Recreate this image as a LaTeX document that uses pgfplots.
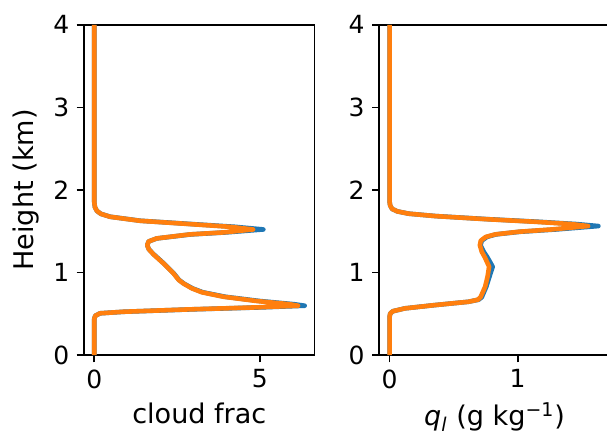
\documentclass[border=0pt]{standalone}
\usepackage{fontspec}
\setmainfont{DejaVu Sans}
\usepackage{pgfplots}
\pgfplotsset{compat=1.18}
\definecolor{mblue}{HTML}{1F77B4}
\definecolor{morange}{HTML}{FF7F0E}
\pgfplotsset{
  myax/.style={
    scale only axis, width=110.7pt, height=158.5pt,
    ymin=0, ymax=4, ytick={0,1,2,3,4},
    tick align=outside, xtick pos=bottom, ytick pos=left,
    major tick length=3.5pt,
    axis line style={line width=0.8pt},
    every tick/.style={line width=0.8pt, black},
    tick label style={font=\fontsize{12}{14}\selectfont},
    label style={font=\fontsize{13}{15}\selectfont},
    /pgf/number format/assume math mode=true,
    anchor=south west,
    every axis plot/.append style={line width=2.2pt, line join=round},
  }
}
\begin{document}
\begin{tikzpicture}
\useasboundingbox (0,0) rectangle (291.36pt,212.16pt);
\clip (0,0) rectangle (291.36pt,212.16pt);
\begin{axis}[myax, at={(40.32pt,41.76pt)},
  xmin=-0.311, xmax=6.66, xtick={0,5},
  xlabel={cloud frac}, ylabel={Height (km)}]
\addplot[mblue] coordinates {
(0,0)(0,0.44)(0.03,0.475)(0.17,0.505)(0.90,0.524)(2.95,0.553)(5.05,0.577)(6.36,0.597)(6.05,0.615)(5.0,0.654)(3.95,0.706)(3.28,0.76)(2.97,0.807)(2.71,0.865)(2.56,0.91)(2.40,0.99)(2.10,1.11)(1.81,1.215)(1.65,1.28)(1.60,1.33)(1.64,1.375)(1.89,1.412)(2.92,1.461)(3.98,1.485)(5.11,1.521)(4.25,1.553)(2.95,1.586)(1.40,1.626)(0.48,1.675)(0.20,1.71)(0.08,1.745)(0.02,1.79)(0,1.85)(0,4)};
\addplot[morange] coordinates {
(0,0)(0,0.44)(0.03,0.475)(0.17,0.505)(0.88,0.524)(2.89,0.553)(4.91,0.577)(6.16,0.597)(5.91,0.615)(4.91,0.654)(3.90,0.706)(3.25,0.76)(2.95,0.807)(2.70,0.865)(2.55,0.91)(2.39,0.99)(2.09,1.11)(1.80,1.215)(1.65,1.28)(1.60,1.33)(1.64,1.375)(1.88,1.412)(2.89,1.461)(3.90,1.485)(4.80,1.521)(4.10,1.553)(2.89,1.586)(1.38,1.626)(0.47,1.675)(0.20,1.71)(0.08,1.745)(0.02,1.79)(0,1.85)(0,4)};
\end{axis}
\begin{axis}[myax, at={(182.06pt,41.76pt)},
  xmin=-0.08, xmax=1.72, xtick={0,1},
  xlabel={\textit{q}\textsubscript{\textit{l}} (g kg\textsuperscript{−1})}]
\addplot[mblue] coordinates {
(0,0)(0,0.46)(0.005,0.50)(0.025,0.53)(0.12,0.565)(0.356,0.605)(0.616,0.645)(0.695,0.67)(0.72,0.70)(0.755,0.827)(0.78,0.95)(0.805,1.07)(0.765,1.18)(0.735,1.25)(0.71,1.33)(0.72,1.385)(0.76,1.43)(0.83,1.461)(1.02,1.493)(1.30,1.521)(1.63,1.562)(1.46,1.586)(1.16,1.614)(0.76,1.646)(0.36,1.683)(0.15,1.712)(0.06,1.74)(0.02,1.77)(0.005,1.81)(0,1.86)(0,4)};
\addplot[morange] coordinates {
(0,0)(0,0.46)(0.005,0.50)(0.025,0.53)(0.12,0.565)(0.356,0.605)(0.616,0.645)(0.69,0.67)(0.71,0.70)(0.746,0.827)(0.765,0.95)(0.777,1.07)(0.745,1.18)(0.72,1.25)(0.705,1.33)(0.712,1.385)(0.75,1.43)(0.824,1.461)(1.006,1.493)(1.266,1.521)(1.55,1.562)(1.42,1.586)(1.136,1.614)(0.746,1.646)(0.356,1.683)(0.15,1.712)(0.06,1.74)(0.02,1.77)(0.005,1.81)(0,1.86)(0,4)};
\end{axis}
\end{tikzpicture}
\end{document}
